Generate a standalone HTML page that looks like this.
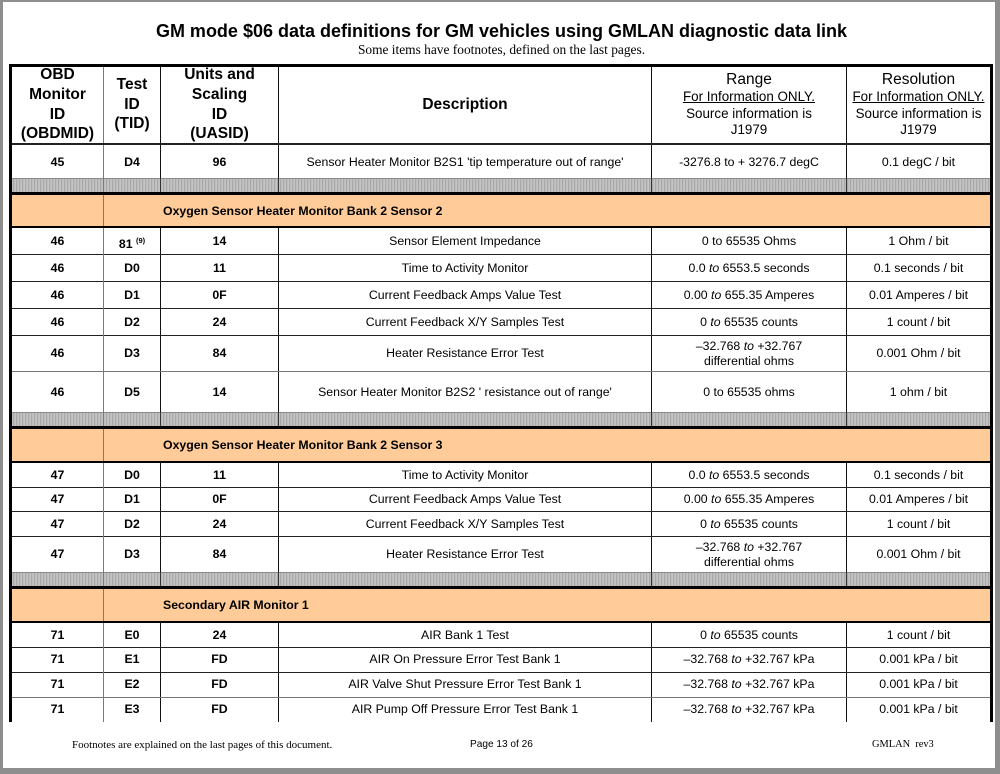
<!DOCTYPE html>
<html><head><meta charset="utf-8">
<style>
*{margin:0;padding:0;box-sizing:border-box}
html,body{width:1000px;height:774px;overflow:hidden;background:#fff}
body{position:relative;font-family:"Liberation Sans",Arial,sans-serif;color:#000}
.a{position:absolute}
.t{position:absolute;text-align:center;white-space:nowrap;line-height:16px;font-size:12.3px}
.b{font-weight:bold}
.h{position:absolute;text-align:center;white-space:nowrap;font-weight:bold;font-size:15.5px;line-height:20px}
.r{position:absolute;text-align:center;white-space:nowrap;font-size:13.4px;line-height:16px}
.hl{position:absolute;left:12px;width:978px;height:1px;background:#222}
.vl{position:absolute;top:67px;height:655px;width:1px;background:#111}
.gb{position:absolute;left:12px;width:978px;height:14px;background:repeating-linear-gradient(90deg,#c4c4c4 0 1px,#a9a9a9 1px 2px,#bcbcbc 2px 3px);border-top:1px solid #8a8a8a}
.or{position:absolute;left:12px;width:978px;background:#ffcc99}
.tk{position:absolute;left:9px;width:984px;background:#000}
.c1{left:12px;width:91px}.c2{left:104px;width:56px}.c3{left:161px;width:117px}
.c4{left:279px;width:372px}.c5{left:652px;width:194px}.c6{left:847px;width:143px}
.sec{position:absolute;left:163px;font-weight:bold;font-size:12.3px;line-height:16px;white-space:nowrap}
sup{font-size:7.5px;vertical-align:5px;font-weight:bold}
</style></head><body>
<!-- page frame -->
<div class="a" style="left:0;top:0;width:3px;height:774px;background:#8e8e8e"></div>
<div class="a" style="left:0;top:0;width:1000px;height:2px;background:#8e8e8e"></div>
<div class="a" style="left:995px;top:0;width:5px;height:774px;background:#8e8e8e"></div>
<div class="a" style="left:0;top:768px;width:1000px;height:6px;background:#8e8e8e"></div>

<!-- title -->
<div class="a b" style="left:0;width:1003px;top:21.5px;text-align:center;font-size:18px;line-height:18px;white-space:nowrap">GM mode $06 data definitions for GM vehicles using GMLAN diagnostic data link</div>
<div class="a" style="left:0;width:1003px;top:43px;text-align:center;font-family:'Liberation Serif','Times New Roman',serif;font-size:13.4px;line-height:14px;white-space:nowrap">Some items have footnotes, defined on the last pages.</div>

<!-- vertical lines -->
<div class="vl" style="left:160px"></div>
<div class="vl" style="left:278px"></div>
<div class="vl" style="left:651px"></div>
<div class="vl" style="left:846px"></div>

<!-- horizontal thin lines -->
<div class="hl" style="top:178px"></div>
<div class="hl" style="top:254px"></div>
<div class="hl" style="top:281px"></div>
<div class="hl" style="top:308px"></div>
<div class="hl" style="top:335px"></div>
<div class="hl" style="top:371px;background:#777"></div>
<div class="hl" style="top:487px"></div>
<div class="hl" style="top:511px"></div>
<div class="hl" style="top:536px"></div>
<div class="hl" style="top:647px"></div>
<div class="hl" style="top:672px"></div>
<div class="hl" style="top:697px;background:#777"></div>

<!-- gray bands -->
<div class="gb" style="top:178px"></div>
<div class="gb" style="top:412px"></div>
<div class="gb" style="top:572px"></div>
<!-- column lines through gray bands -->
<div class="a" style="left:160px;top:178px;width:1px;height:14px;background:#333"></div>
<div class="a" style="left:278px;top:178px;width:1px;height:14px;background:#333"></div>
<div class="a" style="left:651px;top:178px;width:1px;height:14px;background:#333"></div>
<div class="a" style="left:846px;top:178px;width:1px;height:14px;background:#333"></div>
<div class="a" style="left:160px;top:412px;width:1px;height:14px;background:#333"></div>
<div class="a" style="left:278px;top:412px;width:1px;height:14px;background:#333"></div>
<div class="a" style="left:651px;top:412px;width:1px;height:14px;background:#333"></div>
<div class="a" style="left:846px;top:412px;width:1px;height:14px;background:#333"></div>
<div class="a" style="left:160px;top:572px;width:1px;height:14px;background:#333"></div>
<div class="a" style="left:278px;top:572px;width:1px;height:14px;background:#333"></div>
<div class="a" style="left:651px;top:572px;width:1px;height:14px;background:#333"></div>
<div class="a" style="left:846px;top:572px;width:1px;height:14px;background:#333"></div>

<!-- orange section rows -->
<div class="or" style="top:195px;height:31px"></div>
<div class="or" style="top:429px;height:32px"></div>
<div class="or" style="top:589px;height:32px"></div>

<!-- col1/col2 gray line -->
<div class="a" style="left:103px;top:67px;width:1px;height:655px;background:#7a7a7a"></div>

<!-- thick lines -->
<div class="tk" style="top:64px;height:3px"></div>
<div class="tk" style="top:143px;height:2px;background:#222"></div>
<div class="tk" style="top:192px;height:3px"></div>
<div class="tk" style="top:226px;height:2px"></div>
<div class="tk" style="top:426px;height:3px"></div>
<div class="tk" style="top:461px;height:2px"></div>
<div class="tk" style="top:586px;height:3px"></div>
<div class="tk" style="top:621px;height:2px"></div>
<!-- outer side borders -->
<div class="a" style="left:9px;top:64px;width:3px;height:658px;background:#000"></div>
<div class="a" style="left:990px;top:64px;width:3px;height:658px;background:#000"></div>

<!-- header -->
<div class="h c1" style="top:65px">OBD</div>
<div class="h c1" style="top:85px">Monitor</div>
<div class="h c1" style="top:105px">ID</div>
<div class="h c1" style="top:124px">(OBDMID)</div>
<div class="h c2" style="top:75px">Test</div>
<div class="h c2" style="top:95px">ID</div>
<div class="h c2" style="top:114px">(TID)</div>
<div class="h c3" style="top:65px">Units and</div>
<div class="h c3" style="top:85px">Scaling</div>
<div class="h c3" style="top:105px">ID</div>
<div class="h c3" style="top:124px">(UASID)</div>
<div class="h c4" style="top:95px">Description</div>
<div class="r c5" style="top:72px;font-size:15.5px;line-height:16px">Range</div>
<div class="r c5" style="top:89px"><u>For Information ONLY.</u></div>
<div class="r c5" style="top:106px">Source information is</div>
<div class="r c5" style="top:122px">J1979</div>
<div class="r c6" style="top:72px;font-size:15.5px;line-height:16px">Resolution</div>
<div class="r c6" style="top:89px"><u>For Information ONLY.</u></div>
<div class="r c6" style="top:106px">Source information is</div>
<div class="r c6" style="top:122px">J1979</div>

<!-- row 45 -->
<div class="t b c1" style="top:153.5px">45</div><div class="t b c2" style="top:153.5px">D4</div><div class="t b c3" style="top:153.5px">96</div>
<div class="t c4" style="top:153.5px">Sensor Heater Monitor B2S1 'tip temperature out of range'</div>
<div class="t c5" style="top:153.5px">-3276.8 to + 3276.7 degC</div>
<div class="t c6" style="top:153.5px">0.1 degC / bit</div>

<div class="sec" style="top:203px">Oxygen Sensor Heater Monitor Bank 2 Sensor 2</div>

<div class="t b c1" style="top:233px">46</div><div class="t b c2" style="top:233px">81 <sup>(9)</sup></div><div class="t b c3" style="top:233px">14</div>
<div class="t c4" style="top:233px">Sensor Element Impedance</div><div class="t c5" style="top:233px">0 to 65535 Ohms</div><div class="t c6" style="top:233px">1 Ohm / bit</div>

<div class="t b c1" style="top:260px">46</div><div class="t b c2" style="top:260px">D0</div><div class="t b c3" style="top:260px">11</div>
<div class="t c4" style="top:260px">Time to Activity Monitor</div><div class="t c5" style="top:260px">0.0 <i>to</i> 6553.5 seconds</div><div class="t c6" style="top:260px">0.1 seconds / bit</div>

<div class="t b c1" style="top:287px">46</div><div class="t b c2" style="top:287px">D1</div><div class="t b c3" style="top:287px">0F</div>
<div class="t c4" style="top:287px">Current Feedback Amps Value Test</div><div class="t c5" style="top:287px">0.00 <i>to</i> 655.35 Amperes</div><div class="t c6" style="top:287px">0.01 Amperes / bit</div>

<div class="t b c1" style="top:314px">46</div><div class="t b c2" style="top:314px">D2</div><div class="t b c3" style="top:314px">24</div>
<div class="t c4" style="top:314px">Current Feedback X/Y Samples Test</div><div class="t c5" style="top:314px">0 <i>to</i> 65535 counts</div><div class="t c6" style="top:314px">1 count / bit</div>

<div class="t b c1" style="top:345px">46</div><div class="t b c2" style="top:345px">D3</div><div class="t b c3" style="top:345px">84</div>
<div class="t c4" style="top:345px">Heater Resistance Error Test</div>
<div class="t c5" style="top:338px">–32.768 <i>to</i> +32.767</div><div class="t c5" style="top:353px">differential ohms</div>
<div class="t c6" style="top:345px">0.001 Ohm / bit</div>

<div class="t b c1" style="top:384px">46</div><div class="t b c2" style="top:384px">D5</div><div class="t b c3" style="top:384px">14</div>
<div class="t c4" style="top:384px">Sensor Heater Monitor B2S2 ' resistance out of range'</div><div class="t c5" style="top:384px">0 to 65535 ohms</div><div class="t c6" style="top:384px">1 ohm / bit</div>

<div class="sec" style="top:437px">Oxygen Sensor Heater Monitor Bank 2 Sensor 3</div>

<div class="t b c1" style="top:467px">47</div><div class="t b c2" style="top:467px">D0</div><div class="t b c3" style="top:467px">11</div>
<div class="t c4" style="top:467px">Time to Activity Monitor</div><div class="t c5" style="top:467px">0.0 <i>to</i> 6553.5 seconds</div><div class="t c6" style="top:467px">0.1 seconds / bit</div>

<div class="t b c1" style="top:491px">47</div><div class="t b c2" style="top:491px">D1</div><div class="t b c3" style="top:491px">0F</div>
<div class="t c4" style="top:491px">Current Feedback Amps Value Test</div><div class="t c5" style="top:491px">0.00 <i>to</i> 655.35 Amperes</div><div class="t c6" style="top:491px">0.01 Amperes / bit</div>

<div class="t b c1" style="top:516px">47</div><div class="t b c2" style="top:516px">D2</div><div class="t b c3" style="top:516px">24</div>
<div class="t c4" style="top:516px">Current Feedback X/Y Samples Test</div><div class="t c5" style="top:516px">0 <i>to</i> 65535 counts</div><div class="t c6" style="top:516px">1 count / bit</div>

<div class="t b c1" style="top:546px">47</div><div class="t b c2" style="top:546px">D3</div><div class="t b c3" style="top:546px">84</div>
<div class="t c4" style="top:546px">Heater Resistance Error Test</div>
<div class="t c5" style="top:539px">–32.768 <i>to</i> +32.767</div><div class="t c5" style="top:554px">differential ohms</div>
<div class="t c6" style="top:546px">0.001 Ohm / bit</div>

<div class="sec" style="top:597px">Secondary AIR Monitor 1</div>

<div class="t b c1" style="top:627px">71</div><div class="t b c2" style="top:627px">E0</div><div class="t b c3" style="top:627px">24</div>
<div class="t c4" style="top:627px">AIR Bank 1 Test</div><div class="t c5" style="top:627px">0 <i>to</i> 65535 counts</div><div class="t c6" style="top:627px">1 count / bit</div>

<div class="t b c1" style="top:651px">71</div><div class="t b c2" style="top:651px">E1</div><div class="t b c3" style="top:651px">FD</div>
<div class="t c4" style="top:651px">AIR On Pressure Error Test Bank 1</div><div class="t c5" style="top:651px">–32.768 <i>to</i> +32.767 kPa</div><div class="t c6" style="top:651px">0.001 kPa / bit</div>

<div class="t b c1" style="top:676px">71</div><div class="t b c2" style="top:676px">E2</div><div class="t b c3" style="top:676px">FD</div>
<div class="t c4" style="top:676px">AIR Valve Shut Pressure Error Test Bank 1</div><div class="t c5" style="top:676px">–32.768 <i>to</i> +32.767 kPa</div><div class="t c6" style="top:676px">0.001 kPa / bit</div>

<div class="t b c1" style="top:701px">71</div><div class="t b c2" style="top:701px">E3</div><div class="t b c3" style="top:701px">FD</div>
<div class="t c4" style="top:701px">AIR Pump Off Pressure Error Test Bank 1</div><div class="t c5" style="top:701px">–32.768 <i>to</i> +32.767 kPa</div><div class="t c6" style="top:701px">0.001 kPa / bit</div>

<!-- footer -->
<div class="a" style="left:72px;top:738px;font-family:'Liberation Serif','Times New Roman',serif;font-size:11px;line-height:14px;white-space:nowrap">Footnotes are explained on the last pages of this document.</div>
<div class="a" style="left:470px;top:738px;font-size:10.1px;line-height:14px;white-space:nowrap">Page 13 of 26</div>
<div class="a" style="left:872px;top:738px;font-family:'Liberation Serif','Times New Roman',serif;font-size:10.4px;line-height:14px;white-space:nowrap">GMLAN&nbsp; rev3</div>
</body></html>
